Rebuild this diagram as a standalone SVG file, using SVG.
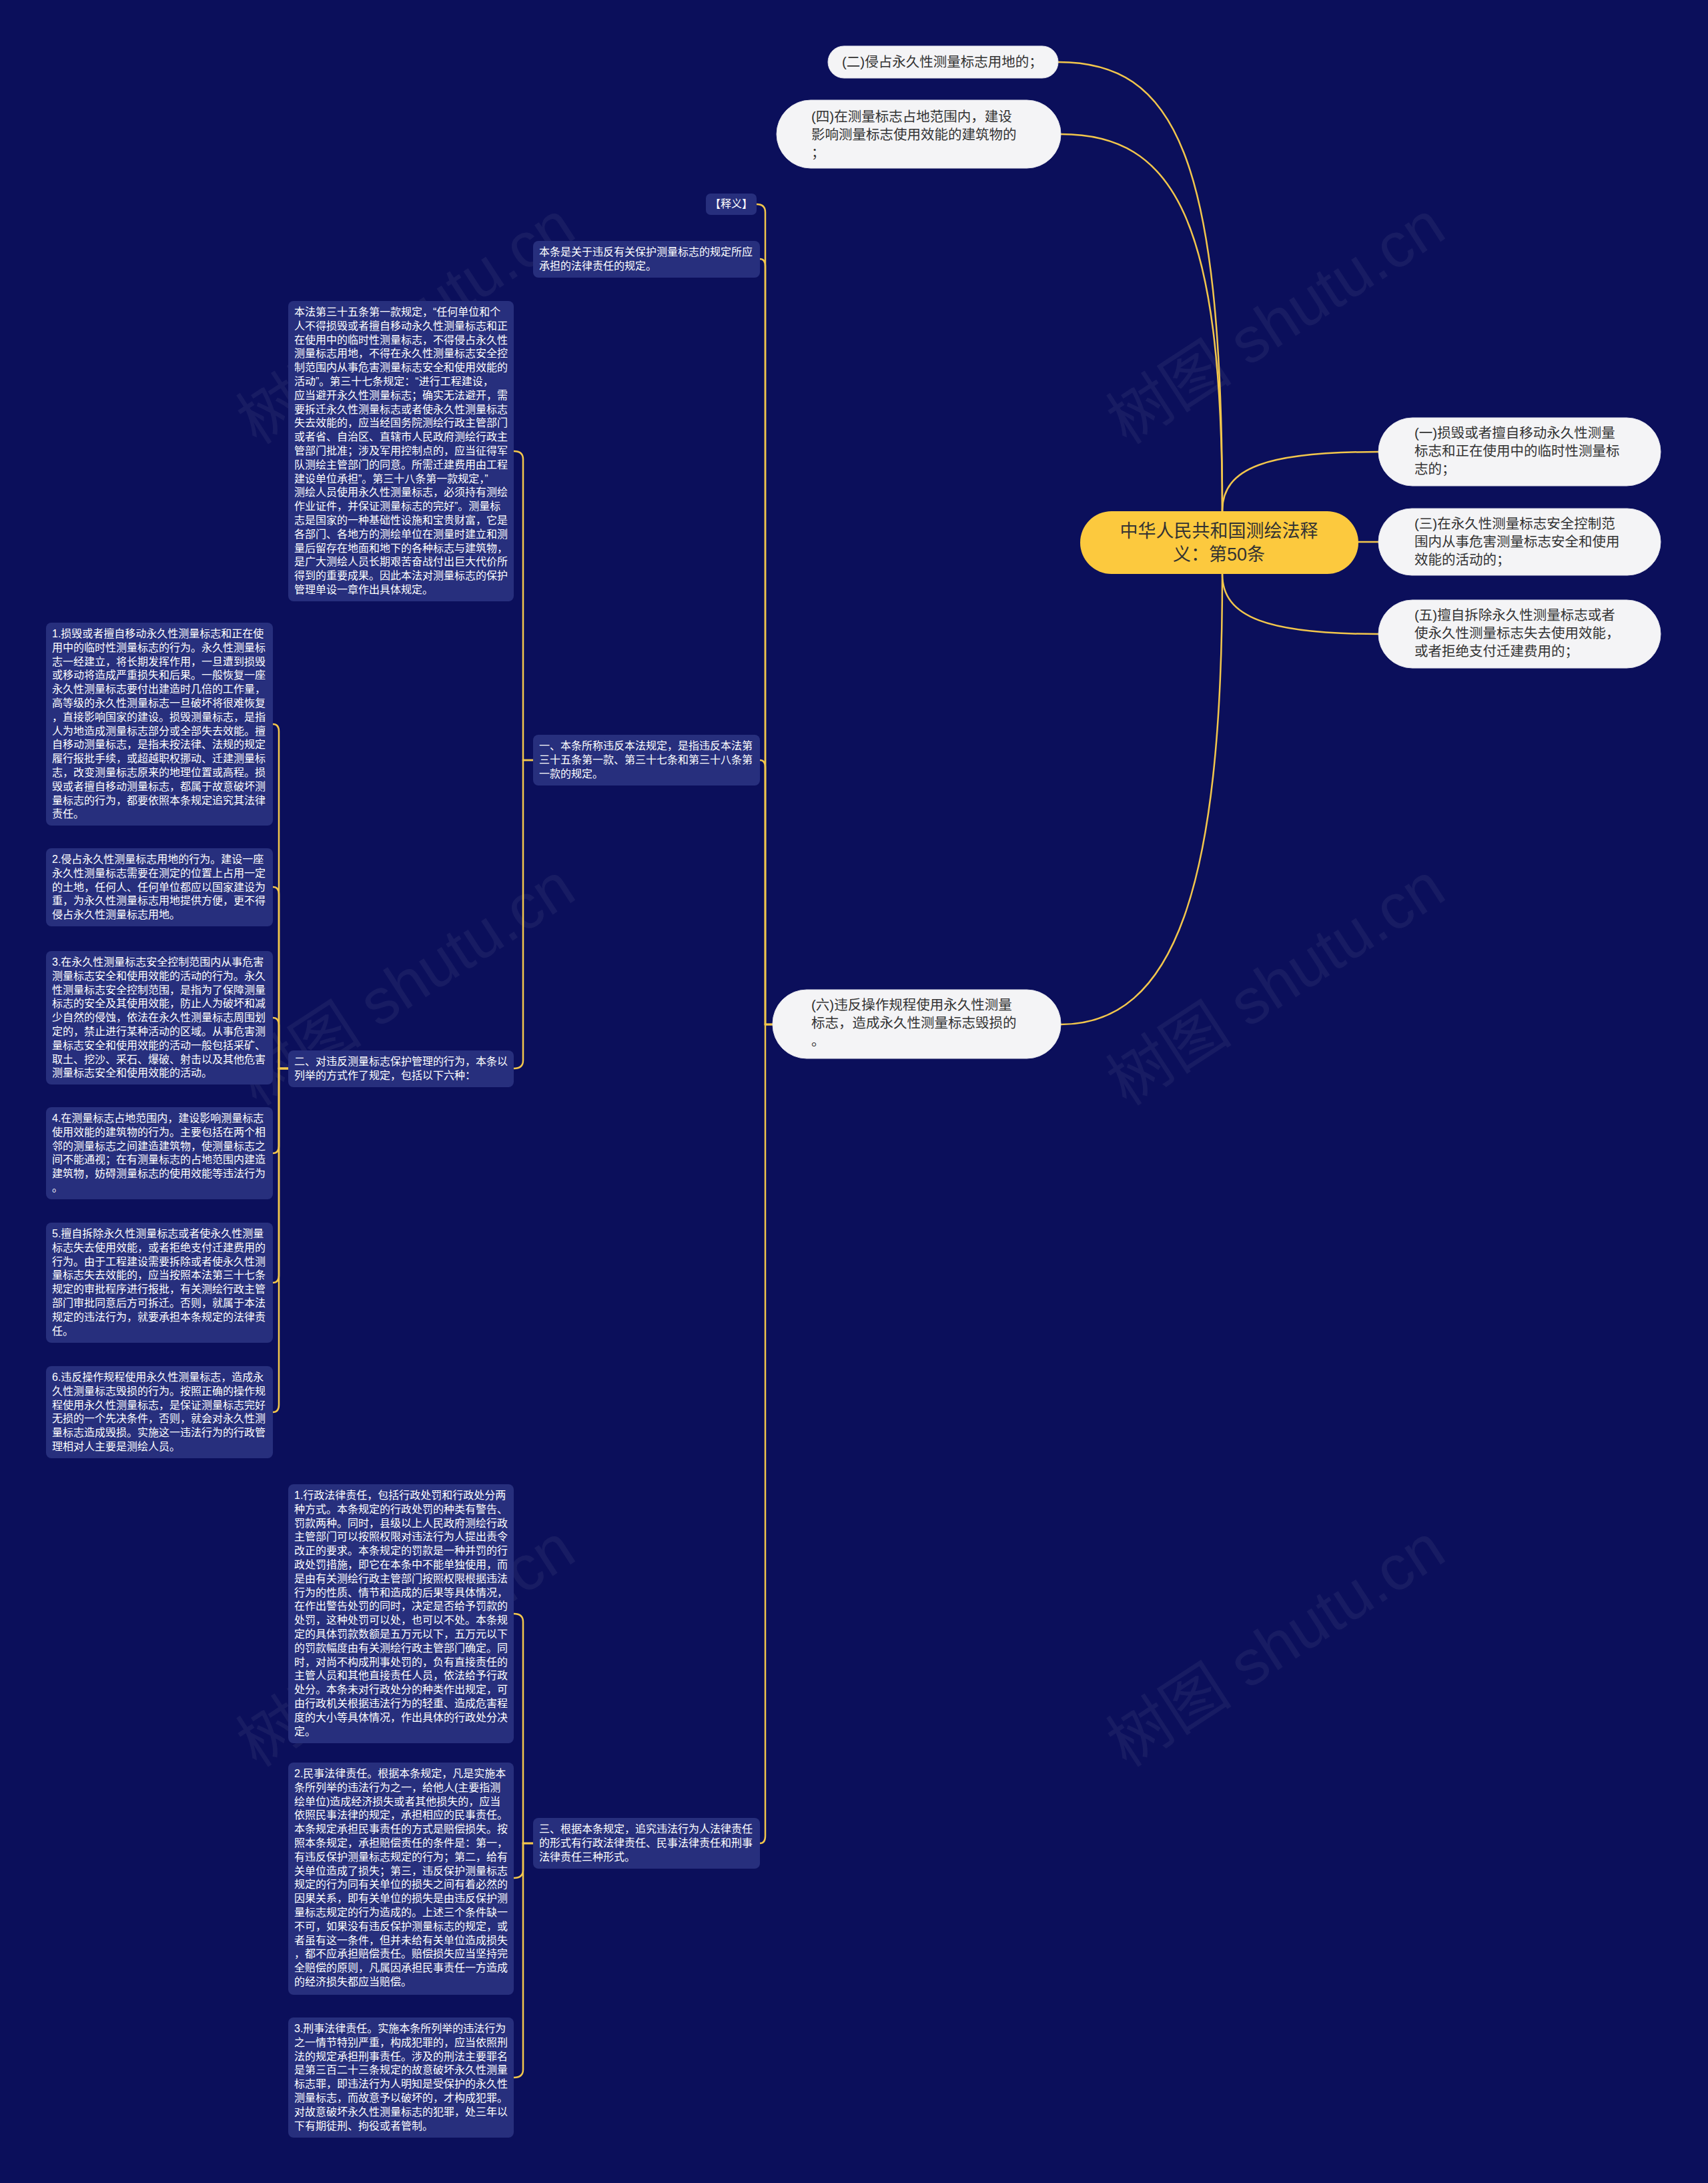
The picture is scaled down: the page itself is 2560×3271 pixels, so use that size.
<svg xmlns="http://www.w3.org/2000/svg" width="2560" height="3271" viewBox="0 0 2560 3271">
<style>
text{font-family:"Liberation Sans","Noto Sans CJK SC",sans-serif}
.pill{fill:#f4f4f6;stroke:#e2e2ea;stroke-width:1}
.pt{font-size:20.5px;fill:#333333}
.box{fill:#272f7d}
.bt{font-size:16px;fill:#ffffff}
.center{fill:#fcc93e}
.ct{font-size:27px;fill:#333333;text-anchor:middle}
.conn{fill:none;stroke:#f2c64c;stroke-width:2.5;stroke-linecap:round}
.wm{font-size:95px;fill:#ffffff;opacity:0.05}
</style>
<rect x="0" y="0" width="2560" height="3271" fill="#0b0f5b"/>
<g id="watermarks">
<text class="wm" transform="translate(1930,511) rotate(-33)" text-anchor="middle">树图 shutu.cn</text>
<text class="wm" transform="translate(626,511) rotate(-33)" text-anchor="middle">树图 shutu.cn</text>
<text class="wm" transform="translate(1930,1502) rotate(-33)" text-anchor="middle">树图 shutu.cn</text>
<text class="wm" transform="translate(626,1502) rotate(-33)" text-anchor="middle">树图 shutu.cn</text>
<text class="wm" transform="translate(1930,2493) rotate(-33)" text-anchor="middle">树图 shutu.cn</text>
<text class="wm" transform="translate(626,2493) rotate(-33)" text-anchor="middle">树图 shutu.cn</text>
</g>
<g id="connectors">
<path class="conn" d="M1832,766 C1832,230 1760,93 1586,93"/>
<path class="conn" d="M1832,766 C1832,330 1760,201 1590,201"/>
<path class="conn" d="M1832,860 C1832,1330 1760,1535 1590,1535"/>
<path class="conn" d="M1832,766 C1832,700 1900,677 2066,677"/>
<path class="conn" d="M2036,812 L2066,812"/>
<path class="conn" d="M1832,860 C1832,925 1900,950 2066,950"/>
<path class="conn" d="M1158,1535 H1147 V318 Q1147,306 1134,306"/>
<path class="conn" d="M1158,1535 H1147 V399 Q1147,388 1139,388"/>
<path class="conn" d="M1158,1535 H1147 V1150 Q1147,1139 1139,1139"/>
<path class="conn" d="M1158,1535 H1147 V2751 Q1147,2762 1139,2762"/>
<path class="conn" d="M799,1139 H784 V688 Q784,676 770,676"/>
<path class="conn" d="M799,1139 H784 V1589 Q784,1601 770,1601"/>
<path class="conn" d="M432,1601 H418 V1096 Q418,1085 409,1085"/>
<path class="conn" d="M432,1601 H418 V1340 Q418,1329 409,1329"/>
<path class="conn" d="M432,1601 H418 V1536 Q418,1525 409,1525"/>
<path class="conn" d="M432,1601 H418 V1717 Q418,1728 409,1728"/>
<path class="conn" d="M432,1601 H418 V1911 Q418,1922 409,1922"/>
<path class="conn" d="M432,1601 H418 V2105 Q418,2116 409,2116"/>
<path class="conn" d="M799,2762 H784 V2430 Q784,2418 770,2418"/>
<path class="conn" d="M799,2762 H784 V2802 Q784,2814 770,2814"/>
<path class="conn" d="M799,2762 H784 V3101 Q784,3113 770,3113"/>
</g>
<g id="root">
<rect class="center" x="1619" y="766" width="417" height="94" rx="47"/>
<text class="ct" x="1827" y="805">中华人民共和国测绘法释</text>
<text class="ct" x="1827" y="840">义：第50条</text>
</g>
<g id="n-2">
<rect class="pill" x="1241" y="69" width="345" height="48" rx="24"/>
<text class="pt" x="1262" y="100">(二)侵占永久性测量标志用地的；</text>
</g>
<g id="n-4">
<rect class="pill" x="1164" y="150" width="426" height="102" rx="51"/>
<text class="pt" x="1216" y="182">(四)在测量标志占地范围内，建设<tspan x="1216" dy="27">影响测量标志使用效能的建筑物的</tspan><tspan x="1216" dy="27">；</tspan></text>
</g>
<g id="n-1">
<rect class="pill" x="2066" y="626" width="423" height="102" rx="51"/>
<text class="pt" x="2120" y="656">(一)损毁或者擅自移动永久性测量<tspan x="2120" dy="27">标志和正在使用中的临时性测量标</tspan><tspan x="2120" dy="27">志的；</tspan></text>
</g>
<g id="n-3">
<rect class="pill" x="2066" y="762" width="423" height="100" rx="50"/>
<text class="pt" x="2120" y="792">(三)在永久性测量标志安全控制范<tspan x="2120" dy="27">围内从事危害测量标志安全和使用</tspan><tspan x="2120" dy="27">效能的活动的；</tspan></text>
</g>
<g id="n-5">
<rect class="pill" x="2066" y="899" width="423" height="102" rx="51"/>
<text class="pt" x="2120" y="929">(五)擅自拆除永久性测量标志或者<tspan x="2120" dy="27">使永久性测量标志失去使用效能，</tspan><tspan x="2120" dy="27">或者拒绝支付迁建费用的；</tspan></text>
</g>
<g id="n-6">
<rect class="pill" x="1158" y="1483" width="432" height="103" rx="51"/>
<text class="pt" x="1216" y="1513">(六)违反操作规程使用永久性测量<tspan x="1216" dy="27">标志，造成永久性测量标志毁损的</tspan><tspan x="1216" dy="27">。</tspan></text>
</g>
<g id="shiyi">
<rect class="box" x="1058" y="290" width="76" height="32" rx="7"/>
<text class="bt" x="1096" y="311" text-anchor="middle">【释义】</text>
</g>
<g id="bentiao">
<rect class="box" x="799" y="361" width="340" height="55" rx="8"/>
<text class="bt" x="808" y="383">本条是关于违反有关保护测量标志的规定所应<tspan x="808" dy="20.8">承担的法律责任的规定。</tspan></text>
</g>
<g id="yi">
<rect class="box" x="799" y="1101" width="340" height="76" rx="8"/>
<text class="bt" x="808" y="1123">一、本条所称违反本法规定，是指违反本法第<tspan x="808" dy="20.8">三十五条第一款、第三十七条和第三十八条第</tspan><tspan x="808" dy="20.8">一款的规定。</tspan></text>
</g>
<g id="san">
<rect class="box" x="799" y="2724" width="340" height="76" rx="8"/>
<text class="bt" x="808" y="2746">三、根据本条规定，追究违法行为人法律责任<tspan x="808" dy="20.8">的形式有行政法律责任、民事法律责任和刑事</tspan><tspan x="808" dy="20.8">法律责任三种形式。</tspan></text>
</g>
<g id="benfa">
<rect class="box" x="432" y="451" width="338" height="450" rx="8"/>
<text class="bt" x="441" y="473">本法第三十五条第一款规定，“任何单位和个<tspan x="441" dy="20.8">人不得损毁或者擅自移动永久性测量标志和正</tspan><tspan x="441" dy="20.8">在使用中的临时性测量标志，不得侵占永久性</tspan><tspan x="441" dy="20.8">测量标志用地，不得在永久性测量标志安全控</tspan><tspan x="441" dy="20.8">制范围内从事危害测量标志安全和使用效能的</tspan><tspan x="441" dy="20.8">活动”。第三十七条规定：“进行工程建设，</tspan><tspan x="441" dy="20.8">应当避开永久性测量标志；确实无法避开，需</tspan><tspan x="441" dy="20.8">要拆迁永久性测量标志或者使永久性测量标志</tspan><tspan x="441" dy="20.8">失去效能的，应当经国务院测绘行政主管部门</tspan><tspan x="441" dy="20.8">或者省、自治区、直辖市人民政府测绘行政主</tspan><tspan x="441" dy="20.8">管部门批准；涉及军用控制点的，应当征得军</tspan><tspan x="441" dy="20.8">队测绘主管部门的同意。所需迁建费用由工程</tspan><tspan x="441" dy="20.8">建设单位承担”。第三十八条第一款规定，”</tspan><tspan x="441" dy="20.8">测绘人员使用永久性测量标志，必须持有测绘</tspan><tspan x="441" dy="20.8">作业证件，并保证测量标志的完好”。测量标</tspan><tspan x="441" dy="20.8">志是国家的一种基础性设施和宝贵财富，它是</tspan><tspan x="441" dy="20.8">各部门、各地方的测绘单位在测量时建立和测</tspan><tspan x="441" dy="20.8">量后留存在地面和地下的各种标志与建筑物，</tspan><tspan x="441" dy="20.8">是广大测绘人员长期艰苦奋战付出巨大代价所</tspan><tspan x="441" dy="20.8">得到的重要成果。因此本法对测量标志的保护</tspan><tspan x="441" dy="20.8">管理单设一章作出具体规定。</tspan></text>
</g>
<g id="er">
<rect class="box" x="432" y="1574" width="338" height="55" rx="8"/>
<text class="bt" x="441" y="1596">二、对违反测量标志保护管理的行为，本条以<tspan x="441" dy="20.8">列举的方式作了规定，包括以下六种：</tspan></text>
</g>
<g id="item-1">
<rect class="box" x="69" y="933" width="340" height="304" rx="8"/>
<text class="bt" x="78" y="955">1.损毁或者擅自移动永久性测量标志和正在使<tspan x="78" dy="20.8">用中的临时性测量标志的行为。永久性测量标</tspan><tspan x="78" dy="20.8">志一经建立，将长期发挥作用，一旦遭到损毁</tspan><tspan x="78" dy="20.8">或移动将造成严重损失和后果。一般恢复一座</tspan><tspan x="78" dy="20.8">永久性测量标志要付出建造时几倍的工作量，</tspan><tspan x="78" dy="20.8">高等级的永久性测量标志一旦破坏将很难恢复</tspan><tspan x="78" dy="20.8">，直接影响国家的建设。损毁测量标志，是指</tspan><tspan x="78" dy="20.8">人为地造成测量标志部分或全部失去效能。擅</tspan><tspan x="78" dy="20.8">自移动测量标志，是指未按法律、法规的规定</tspan><tspan x="78" dy="20.8">履行报批手续，或超越职权挪动、迁建测量标</tspan><tspan x="78" dy="20.8">志，改变测量标志原来的地理位置或高程。损</tspan><tspan x="78" dy="20.8">毁或者擅自移动测量标志，都属于故意破坏测</tspan><tspan x="78" dy="20.8">量标志的行为，都要依照本条规定追究其法律</tspan><tspan x="78" dy="20.8">责任。</tspan></text>
</g>
<g id="item-2">
<rect class="box" x="69" y="1271" width="340" height="117" rx="8"/>
<text class="bt" x="78" y="1293">2.侵占永久性测量标志用地的行为。建设一座<tspan x="78" dy="20.8">永久性测量标志需要在测定的位置上占用一定</tspan><tspan x="78" dy="20.8">的土地，任何人、任何单位都应以国家建设为</tspan><tspan x="78" dy="20.8">重，为永久性测量标志用地提供方便，更不得</tspan><tspan x="78" dy="20.8">侵占永久性测量标志用地。</tspan></text>
</g>
<g id="item-3">
<rect class="box" x="69" y="1425" width="340" height="200" rx="8"/>
<text class="bt" x="78" y="1447">3.在永久性测量标志安全控制范围内从事危害<tspan x="78" dy="20.8">测量标志安全和使用效能的活动的行为。永久</tspan><tspan x="78" dy="20.8">性测量标志安全控制范围，是指为了保障测量</tspan><tspan x="78" dy="20.8">标志的安全及其使用效能，防止人为破坏和减</tspan><tspan x="78" dy="20.8">少自然的侵蚀，依法在永久性测量标志周围划</tspan><tspan x="78" dy="20.8">定的，禁止进行某种活动的区域。从事危害测</tspan><tspan x="78" dy="20.8">量标志安全和使用效能的活动一般包括采矿、</tspan><tspan x="78" dy="20.8">取土、挖沙、采石、爆破、射击以及其他危害</tspan><tspan x="78" dy="20.8">测量标志安全和使用效能的活动。</tspan></text>
</g>
<g id="item-4">
<rect class="box" x="69" y="1659" width="340" height="138" rx="8"/>
<text class="bt" x="78" y="1681">4.在测量标志占地范围内，建设影响测量标志<tspan x="78" dy="20.8">使用效能的建筑物的行为。主要包括在两个相</tspan><tspan x="78" dy="20.8">邻的测量标志之间建造建筑物，使测量标志之</tspan><tspan x="78" dy="20.8">间不能通视；在有测量标志的占地范围内建造</tspan><tspan x="78" dy="20.8">建筑物，妨碍测量标志的使用效能等违法行为</tspan><tspan x="78" dy="20.8">。</tspan></text>
</g>
<g id="item-5">
<rect class="box" x="69" y="1832" width="340" height="180" rx="8"/>
<text class="bt" x="78" y="1854">5.擅自拆除永久性测量标志或者使永久性测量<tspan x="78" dy="20.8">标志失去使用效能，或者拒绝支付迁建费用的</tspan><tspan x="78" dy="20.8">行为。由于工程建设需要拆除或者使永久性测</tspan><tspan x="78" dy="20.8">量标志失去效能的，应当按照本法第三十七条</tspan><tspan x="78" dy="20.8">规定的审批程序进行报批，有关测绘行政主管</tspan><tspan x="78" dy="20.8">部门审批同意后方可拆迁。否则，就属于本法</tspan><tspan x="78" dy="20.8">规定的违法行为，就要承担本条规定的法律责</tspan><tspan x="78" dy="20.8">任。</tspan></text>
</g>
<g id="item-6">
<rect class="box" x="69" y="2047" width="340" height="138" rx="8"/>
<text class="bt" x="78" y="2069">6.违反操作规程使用永久性测量标志，造成永<tspan x="78" dy="20.8">久性测量标志毁损的行为。按照正确的操作规</tspan><tspan x="78" dy="20.8">程使用永久性测量标志，是保证测量标志完好</tspan><tspan x="78" dy="20.8">无损的一个先决条件，否则，就会对永久性测</tspan><tspan x="78" dy="20.8">量标志造成毁损。实施这一违法行为的行政管</tspan><tspan x="78" dy="20.8">理相对人主要是测绘人员。</tspan></text>
</g>
<g id="xingzheng">
<rect class="box" x="432" y="2224" width="338" height="388" rx="8"/>
<text class="bt" x="441" y="2246">1.行政法律责任，包括行政处罚和行政处分两<tspan x="441" dy="20.8">种方式。本条规定的行政处罚的种类有警告、</tspan><tspan x="441" dy="20.8">罚款两种。同时，县级以上人民政府测绘行政</tspan><tspan x="441" dy="20.8">主管部门可以按照权限对违法行为人提出责令</tspan><tspan x="441" dy="20.8">改正的要求。本条规定的罚款是一种并罚的行</tspan><tspan x="441" dy="20.8">政处罚措施，即它在本条中不能单独使用，而</tspan><tspan x="441" dy="20.8">是由有关测绘行政主管部门按照权限根据违法</tspan><tspan x="441" dy="20.8">行为的性质、情节和造成的后果等具体情况，</tspan><tspan x="441" dy="20.8">在作出警告处罚的同时，决定是否给予罚款的</tspan><tspan x="441" dy="20.8">处罚，这种处罚可以处，也可以不处。本条规</tspan><tspan x="441" dy="20.8">定的具体罚款数额是五万元以下，五万元以下</tspan><tspan x="441" dy="20.8">的罚款幅度由有关测绘行政主管部门确定。同</tspan><tspan x="441" dy="20.8">时，对尚不构成刑事处罚的，负有直接责任的</tspan><tspan x="441" dy="20.8">主管人员和其他直接责任人员，依法给予行政</tspan><tspan x="441" dy="20.8">处分。本条未对行政处分的种类作出规定，可</tspan><tspan x="441" dy="20.8">由行政机关根据违法行为的轻重、造成危害程</tspan><tspan x="441" dy="20.8">度的大小等具体情况，作出具体的行政处分决</tspan><tspan x="441" dy="20.8">定。</tspan></text>
</g>
<g id="minshi">
<rect class="box" x="432" y="2641" width="338" height="348" rx="8"/>
<text class="bt" x="441" y="2663">2.民事法律责任。根据本条规定，凡是实施本<tspan x="441" dy="20.8">条所列举的违法行为之一，给他人(主要指测</tspan><tspan x="441" dy="20.8">绘单位)造成经济损失或者其他损失的，应当</tspan><tspan x="441" dy="20.8">依照民事法律的规定，承担相应的民事责任。</tspan><tspan x="441" dy="20.8">本条规定承担民事责任的方式是赔偿损失。按</tspan><tspan x="441" dy="20.8">照本条规定，承担赔偿责任的条件是：第一，</tspan><tspan x="441" dy="20.8">有违反保护测量标志规定的行为；第二，给有</tspan><tspan x="441" dy="20.8">关单位造成了损失；第三，违反保护测量标志</tspan><tspan x="441" dy="20.8">规定的行为同有关单位的损失之间有着必然的</tspan><tspan x="441" dy="20.8">因果关系，即有关单位的损失是由违反保护测</tspan><tspan x="441" dy="20.8">量标志规定的行为造成的。上述三个条件缺一</tspan><tspan x="441" dy="20.8">不可，如果没有违反保护测量标志的规定，或</tspan><tspan x="441" dy="20.8">者虽有这一条件，但并未给有关单位造成损失</tspan><tspan x="441" dy="20.8">，都不应承担赔偿责任。赔偿损失应当坚持完</tspan><tspan x="441" dy="20.8">全赔偿的原则，凡属因承担民事责任一方造成</tspan><tspan x="441" dy="20.8">的经济损失都应当赔偿。</tspan></text>
</g>
<g id="xingshi">
<rect class="box" x="432" y="3023" width="338" height="180" rx="8"/>
<text class="bt" x="441" y="3045">3.刑事法律责任。实施本条所列举的违法行为<tspan x="441" dy="20.8">之一情节特别严重，构成犯罪的，应当依照刑</tspan><tspan x="441" dy="20.8">法的规定承担刑事责任。涉及的刑法主要罪名</tspan><tspan x="441" dy="20.8">是第三百二十三条规定的故意破坏永久性测量</tspan><tspan x="441" dy="20.8">标志罪，即违法行为人明知是受保护的永久性</tspan><tspan x="441" dy="20.8">测量标志，而故意予以破坏的，才构成犯罪。</tspan><tspan x="441" dy="20.8">对故意破坏永久性测量标志的犯罪，处三年以</tspan><tspan x="441" dy="20.8">下有期徒刑、拘役或者管制。</tspan></text>
</g>
</svg>
